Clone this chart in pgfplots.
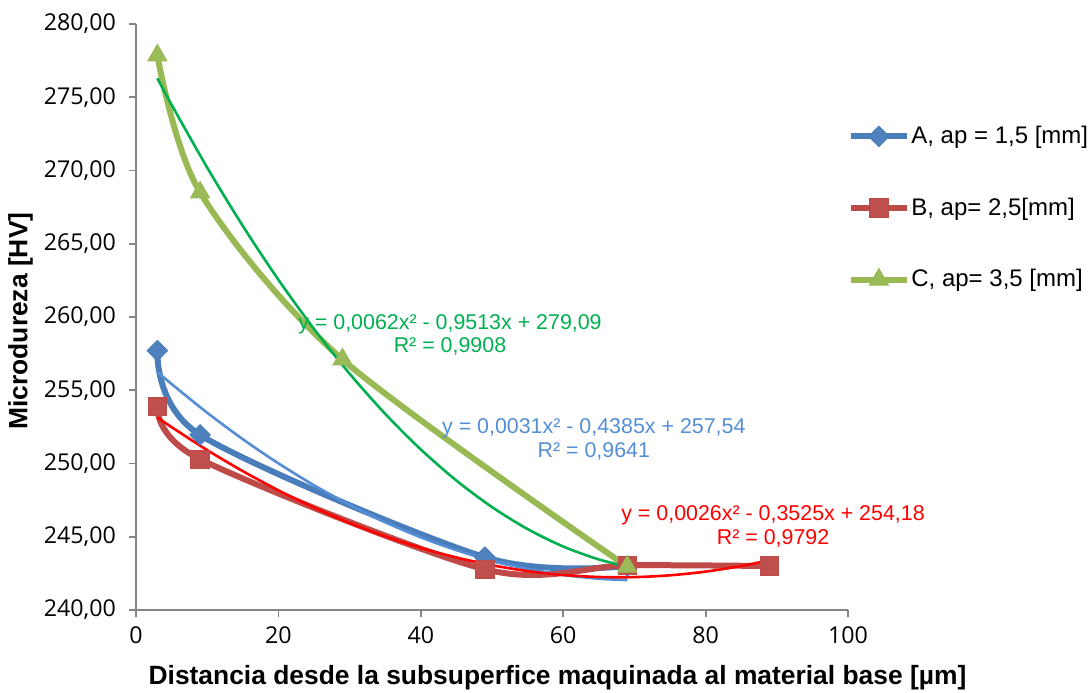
\documentclass[border=0pt]{standalone}
\usepackage{fontspec}
\setmainfont{Liberation Sans}
\newfontfamily\tickfamily{Open Sans}
\usepackage{pgfplots}
\pgfplotsset{compat=1.18}
\definecolor{serA}{RGB}{74,126,187}
\definecolor{fillA}{RGB}{79,129,189}
\definecolor{serB}{RGB}{190,75,72}
\definecolor{fillB}{RGB}{192,80,77}
\definecolor{serC}{RGB}{152,185,84}
\definecolor{fillC}{RGB}{155,187,89}
\definecolor{trA}{RGB}{85,142,213}
\definecolor{trB}{RGB}{255,0,0}
\definecolor{trC}{RGB}{0,176,80}
\definecolor{axgray}{RGB}{134,134,134}

\pgfplotstableread{
x y
3 257.70
9 251.95
49 243.60
69 243.00
}\dataA
\pgfplotstableread{
x y
3 253.88
9 250.29
49 242.78
69 243.05
89 243.00
}\dataB
\pgfplotstableread{
x y
3 277.85
9 268.50
29 257.10
69 242.96
}\dataC

\begin{document}
\begin{tikzpicture}
\begin{axis}[
  scale only axis, width=356pt, height=293pt,
  xmin=0, xmax=100, ymin=240, ymax=280,
  xtick={0,20,...,100}, ytick={240,245,...,280},
  axis x line*=bottom, axis y line*=left,
  axis line style={draw=axgray, line width=0.9pt, -},
  tick style={draw=axgray, line width=0.9pt},
  tick align=outside, major tick length=3.5pt,
  clip=false,
  /pgf/number format/assume math mode=true,
  ticklabel style={font=\tickfamily\fontsize{11.6}{13}\selectfont},
  y tick label style={xshift=-3pt, /pgf/number format/.cd, fixed, fixed zerofill, precision=2, use comma, /tikz/.cd},
  x tick label style={yshift=-1.2pt, /pgf/number format/.cd, fixed, precision=0, /tikz/.cd},
  xlabel={Distancia desde la subsuperfice maquinada al material base [µm]},
  ylabel={Microdureza [HV]},
  label style={font=\bfseries\fontsize{13.2}{15}\selectfont},
  xlabel style={at={(axis description cs:0.592,-0.1160)}, anchor=center},
  ylabel style={at={(axis description cs:-0.162,0.493)}, anchor=center},
  legend style={at={(axis description cs:1.0,0.686)}, anchor=west, draw=none, fill=none,
    font=\fontsize{12}{13.5}\selectfont, inner sep=0pt, row sep=23.6pt,
    nodes={inner sep=1pt}},
  legend cell align=left,
  legend image code/.code={\draw[mark repeat=2,mark phase=2] plot coordinates {(0pt,0pt) (13.75pt,0pt) (27.5pt,0pt)};},
]
\coordinate (ll) at (rel axis cs:0,0);
\coordinate (ur) at (rel axis cs:1,1);

\addplot[serA, line width=3pt, smooth, mark=square*, mark size=3.6pt,
  mark options={rotate=45, fill=fillA, draw=serA, line width=0.5pt}] table {\dataA};
\addlegendentry{A, ap = 1,5 [mm]}
\addplot[serB, line width=3pt, smooth, mark=square*, mark size=4.6pt,
  mark options={fill=fillB, draw=serB, line width=0.5pt}] table {\dataB};
\addlegendentry{B, ap= 2,5[mm]}
\addplot[serC, line width=3pt, smooth, mark=triangle*, mark size=5.5pt,
  mark options={fill=fillC, draw=serC, line width=0.5pt}] table {\dataC};
\addlegendentry{C, ap= 3,5 [mm]}

% trendlines (coordinates from the displayed equations)
\addplot[trA, line width=1.3pt, smooth, forget plot] coordinates {
(3,256.252) (5,255.425) (10,253.465) (15,251.660) (20,250.010) (25,248.515)
(30,247.175) (35,245.990) (40,244.960) (45,244.085) (50,243.365) (55,242.800)
(60,242.390) (65,242.135) (69,242.043)};
\addplot[trB, line width=1.3pt, smooth, forget plot] coordinates {
(3,253.146) (5,252.483) (10,250.915) (15,249.478) (20,248.170) (25,246.993)
(30,245.945) (35,245.028) (40,244.240) (45,243.583) (50,243.055) (55,242.658)
(60,242.390) (65,242.253) (70,242.245) (75,242.368) (80,242.620) (85,243.003) (89,243.402)};
\addplot[trC, line width=1.3pt, smooth, forget plot] coordinates {
(3,276.292) (5,274.489) (10,270.197) (15,266.216) (20,262.544) (25,259.183)
(30,256.131) (35,253.390) (40,250.958) (45,248.837) (50,247.025) (55,245.524)
(60,244.332) (65,243.451) (69,242.969)};

\node[trC, align=center, font=\fontsize{10.7}{11.8}\selectfont] at (axis cs:44.1,258.77)
  {y = 0,0062x² - 0,9513x + 279,09\\R² = 0,9908};
\node[trA, align=center, font=\fontsize{10.7}{11.8}\selectfont] at (axis cs:64.3,251.64)
  {y = 0,0031x² - 0,4385x + 257,54\\R² = 0,9641};
\node[trB, align=center, font=\fontsize{10.7}{11.8}\selectfont] at (axis cs:89.47,245.70)
  {y = 0,0026x² - 0,3525x + 254,18\\R² = 0,9792};
\end{axis}
\pgfresetboundingbox
\path ([shift={(-68pt,-41.5pt)}]ll) rectangle ([shift={(121.5pt,12pt)}]ur);
\end{tikzpicture}
\end{document}
